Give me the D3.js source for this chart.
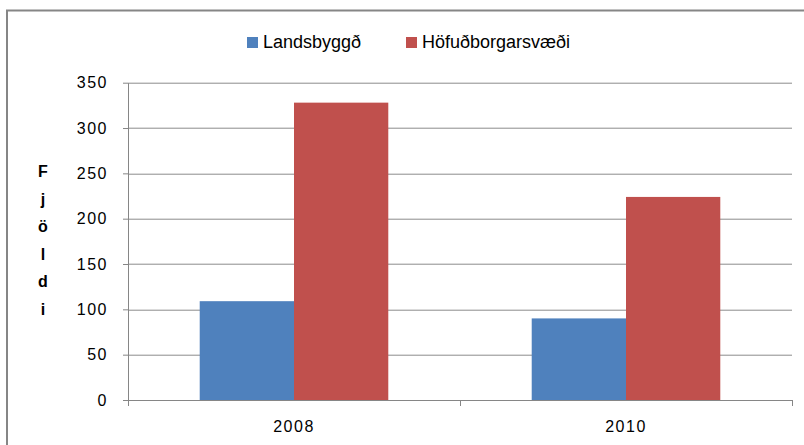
<!DOCTYPE html>
<html>
<head>
<meta charset="utf-8">
<script src="https://cdn.jsdelivr.net/npm/d3@7"></script>
<style>
  body { margin: 0; background: #fff; }
  text { font-family: 'Liberation Sans', Arial, sans-serif; fill: #000; }
</style>
</head>
<body>
<div id="chart"></div>
<script>
// chart data
const YEARS = ['2008', '2010'];
const SERIES = ['Landsbyggð', 'Höfuðborgarsvæði'];
const LANDSBYGGD = [109, 90];
const HOFUDBORG = [328, 224];
const Y_TICKS = [0, 50, 100, 150, 200, 250, 300, 350];
const Y_LABEL = 'Fjöldi';

const COLORS = ['#4F81BD', '#C0504D'];

const FRAME_WIDTH = 804;
const FRAME_HEIGHT = 445;
const MARGINS = {left: 128, right: 12, top: 82.7, bottom: 45};

const VIS_WIDTH = FRAME_WIDTH - MARGINS.left - MARGINS.right;
const VIS_HEIGHT = FRAME_HEIGHT - MARGINS.top - MARGINS.bottom;

const data = YEARS.map((y, i) => ({year: y, values: [LANDSBYGGD[i], HOFUDBORG[i]]}));

const svg = d3.select('#chart')
  .append('svg')
    .attr('width', FRAME_WIDTH)
    .attr('height', FRAME_HEIGHT);

// outer chart border (right/bottom run off the picture)
svg.append('rect')
  .attr('x', 7).attr('y', 10.5)
  .attr('width', 820).attr('height', 460)
  .attr('fill', 'none')
  .attr('stroke', '#868686')
  .attr('stroke-width', 2);

const g = svg.append('g')
  .attr('transform', 'translate(' + MARGINS.left + ',' + MARGINS.top + ')');

const yscale = d3.scaleLinear()
  .domain([0, 350])
  .range([VIS_HEIGHT, 0]);

const x0 = d3.scaleBand()
  .domain(YEARS)
  .range([0, VIS_WIDTH])
  .paddingInner(0.432)
  .paddingOuter(0.216);

const x1 = d3.scaleBand()
  .domain(SERIES)
  .range([0, x0.bandwidth()]);

// gridlines
g.append('g')
  .selectAll('line')
  .data(Y_TICKS.filter(d => d > 0))
  .enter()
  .append('line')
    .attr('x1', 0).attr('x2', VIS_WIDTH)
    .attr('y1', d => Math.round(yscale(d)) + 0.5)
    .attr('y2', d => Math.round(yscale(d)) + 0.5)
    .attr('stroke', '#8c8c8c')
    .attr('stroke-width', 1);

// bars
g.selectAll('.group')
  .data(data)
  .enter()
  .append('g')
    .attr('transform', d => 'translate(' + x0(d.year) + ',0)')
  .selectAll('rect')
  .data(d => d.values.map((v, i) => ({key: SERIES[i], value: v, i: i})))
  .enter()
  .append('rect')
    .attr('x', d => x1(d.key))
    .attr('y', d => yscale(d.value))
    .attr('width', x1.bandwidth())
    .attr('height', d => VIS_HEIGHT - yscale(d.value))
    .attr('fill', d => COLORS[d.i]);

// y axis
const yAxis = g.append('g')
  .call(d3.axisLeft(yscale).tickValues(Y_TICKS).tickSize(5).tickPadding(15).tickSizeOuter(0));
yAxis.select('.domain').attr('stroke', '#868686');
yAxis.selectAll('.tick line').attr('stroke', '#868686');
yAxis.selectAll('.tick text')
  .attr('font-size', '16px')
  .attr('letter-spacing', '1.5px')
  .attr('font-family', "'Liberation Sans', Arial, sans-serif");

// x axis with ticks between categories
const xAxisG = g.append('g')
  .attr('transform', 'translate(0,' + VIS_HEIGHT + ')');
xAxisG.append('line')
  .attr('x1', 0).attr('x2', VIS_WIDTH)
  .attr('y1', 0.5).attr('y2', 0.5)
  .attr('stroke', '#868686');
xAxisG.selectAll('.sep')
  .data([0].concat(YEARS.map(y => x0(y) + x0.bandwidth() + x0.step() * 0.216)))
  .enter()
  .append('line')
    .attr('x1', d => Math.round(d) + 0.5).attr('x2', d => Math.round(d) + 0.5)
    .attr('y1', 0).attr('y2', 6)
    .attr('stroke', '#868686');
xAxisG.selectAll('.lbl')
  .data(YEARS)
  .enter()
  .append('text')
    .attr('x', d => x0(d) + x0.bandwidth() / 2)
    .attr('y', 32)
    .attr('text-anchor', 'middle')
    .attr('font-size', '16px')
    .attr('letter-spacing', '1.5px')
    .text(d => d);

// vertical stacked y label
svg.append('g')
  .selectAll('text')
  .data(Y_LABEL.split(''))
  .enter()
  .append('text')
    .attr('x', 43)
    .attr('y', (d, i) => 177 + i * 27.5)
    .attr('text-anchor', 'middle')
    .attr('font-size', '16px')
    .attr('font-weight', 'bold')
    .text(d => d);

// legend
const legendX = [247, 406];
const legend = svg.append('g');
legend.selectAll('rect')
  .data(SERIES)
  .enter()
  .append('rect')
    .attr('x', (d, i) => legendX[i])
    .attr('y', 37)
    .attr('width', 11).attr('height', 11)
    .attr('fill', (d, i) => COLORS[i]);
legend.selectAll('text')
  .data(SERIES)
  .enter()
  .append('text')
    .attr('x', (d, i) => legendX[i] + 16)
    .attr('y', 48)
    .attr('font-size', '18px')
    .text(d => d);
</script>
</body>
</html>
